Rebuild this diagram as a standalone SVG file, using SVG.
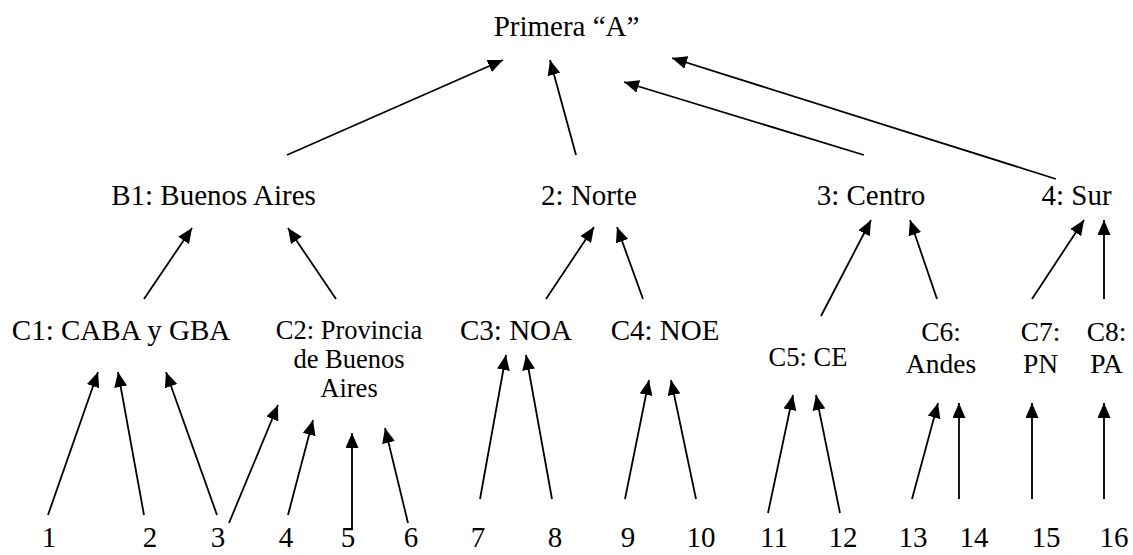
<svg xmlns="http://www.w3.org/2000/svg" width="1133" height="555" viewBox="0 0 1133 555">
<defs>
<style>
text{font-family:"Liberation Serif","DejaVu Serif","Times New Roman",serif;fill:#000;text-anchor:middle}
.l{font-size:29px}
.s{font-size:26.5px}
.m{font-size:27.5px}
.c line{stroke:#000;stroke-width:1.8;marker-end:url(#ah)}
</style>
<marker id="ah" markerUnits="userSpaceOnUse" markerWidth="15" markerHeight="13" refX="15" refY="6.5" orient="auto" viewBox="0 0 15 13">
<path d="M0,0 L15,6.5 L0,13 z" fill="#000"/>
</marker>
</defs>
<rect width="1133" height="555" fill="#fff"/>
<g font-family="Liberation Serif, DejaVu Serif, serif">
<g id="A"><text class="l" x="566.5" y="36">Primera “A”</text></g>
<g id="B1"><text class="l" x="213.5" y="205">B1: Buenos Aires</text></g>
<g id="B2"><text class="l" x="589" y="205">2: Norte</text></g>
<g id="B3"><text class="l" x="871" y="205">3: Centro</text></g>
<g id="B4"><text class="l" x="1076.5" y="205">4: Sur</text></g>
<g id="C1"><text class="l" x="121" y="340">C1: CABA y GBA</text></g>
<g id="C2"><text class="s" x="349" y="339">C2: Provincia</text><text class="s" x="349" y="368">de Buenos</text><text class="s" x="349" y="397">Aires</text></g>
<g id="C3"><text class="l" x="516" y="340">C3: NOA</text></g>
<g id="C4"><text class="l" x="665" y="340">C4: NOE</text></g>
<g id="C5"><text class="s" x="808" y="366">C5: CE</text></g>
<g id="C6"><text class="m" x="941" y="341">C6:</text><text class="m" x="941" y="373">Andes</text></g>
<g id="C7"><text class="m" x="1040.5" y="341">C7:</text><text class="m" x="1040.5" y="373">PN</text></g>
<g id="C8"><text class="m" x="1106.5" y="341">C8:</text><text class="m" x="1106.5" y="373">PA</text></g>
<g id="N1"><text class="l" x="49" y="547">1</text></g>
<g id="N2"><text class="l" x="150" y="547">2</text></g>
<g id="N3"><text class="l" x="218" y="547">3</text></g>
<g id="N4"><text class="l" x="286" y="547">4</text></g>
<g id="N5"><text class="l" x="348" y="547">5</text></g>
<g id="N6"><text class="l" x="411" y="547">6</text></g>
<g id="N7"><text class="l" x="478" y="547">7</text></g>
<g id="N8"><text class="l" x="555" y="547">8</text></g>
<g id="N9"><text class="l" x="628" y="547">9</text></g>
<g id="N10"><text class="l" x="701" y="547">10</text></g>
<g id="N11"><text class="l" x="774" y="547">11</text></g>
<g id="N12"><text class="l" x="843" y="547">12</text></g>
<g id="N13"><text class="l" x="913" y="547">13</text></g>
<g id="N14"><text class="l" x="974" y="547">14</text></g>
<g id="N15"><text class="l" x="1046" y="547">15</text></g>
<g id="N16"><text class="l" x="1114" y="547">16</text></g>
</g>
<g id="connectors" class="c">
<line x1="287" y1="155" x2="503" y2="60"/>
<line x1="576" y1="155" x2="550" y2="60"/>
<line x1="864" y1="155" x2="624" y2="82"/>
<line x1="1056" y1="179" x2="672" y2="58"/>
<line x1="144" y1="299" x2="192" y2="228"/>
<line x1="336" y1="299" x2="288" y2="228"/>
<line x1="546" y1="299" x2="594" y2="227"/>
<line x1="643" y1="299" x2="617" y2="227"/>
<line x1="821" y1="316" x2="871" y2="220"/>
<line x1="937" y1="299" x2="910" y2="220"/>
<line x1="1032" y1="299" x2="1084" y2="220"/>
<line x1="1104" y1="299" x2="1104" y2="220"/>
<line x1="48" y1="515" x2="98" y2="372"/>
<line x1="144" y1="515" x2="118" y2="372"/>
<line x1="217" y1="515" x2="166" y2="372"/>
<line x1="229" y1="523" x2="278" y2="405"/>
<line x1="288" y1="515" x2="313" y2="420"/>
<line x1="352" y1="530" x2="352" y2="433"/>
<line x1="408" y1="523" x2="385" y2="428"/>
<line x1="480" y1="499" x2="506" y2="355"/>
<line x1="552" y1="499" x2="526" y2="355"/>
<line x1="625" y1="499" x2="649" y2="380"/>
<line x1="696" y1="499" x2="671" y2="380"/>
<line x1="768" y1="513" x2="793" y2="395"/>
<line x1="840" y1="513" x2="816" y2="395"/>
<line x1="912" y1="499" x2="938" y2="403"/>
<line x1="959" y1="499" x2="959" y2="403"/>
<line x1="1032" y1="499" x2="1032" y2="403"/>
<line x1="1104" y1="499" x2="1104" y2="403"/>
</g>
</svg>
